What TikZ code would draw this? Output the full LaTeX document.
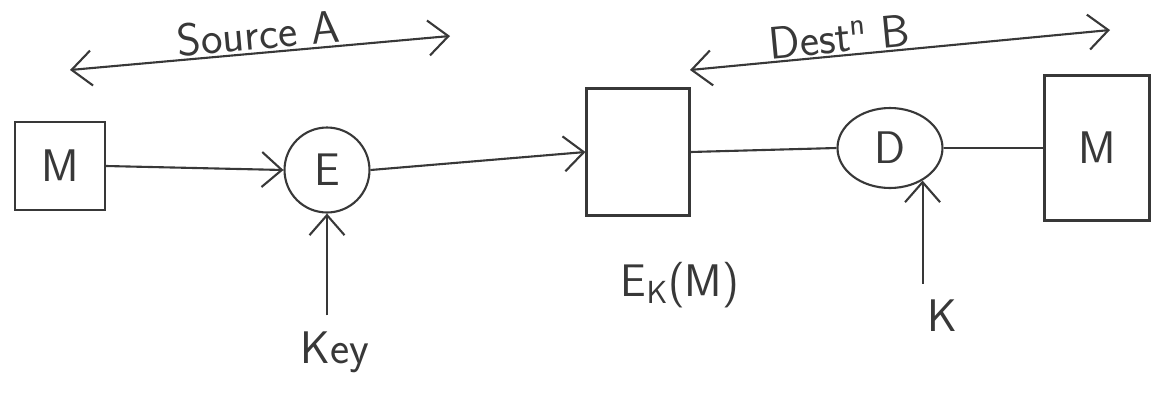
\documentclass[tikz,border=0pt]{standalone}
\usepackage{xcolor}
\usetikzlibrary{arrows.meta,positioning,shapes.geometric}
\definecolor{Pencil}{HTML}{383838}
\newcommand\handfont{\sffamily\fontsize{26}{30}\selectfont}

\begin{document}
\begin{tikzpicture}[x=0.02cm, y=-0.02cm,
  block/.style={draw=Pencil, line width=1.2pt, minimum width=18mm, minimum height=17.6mm,
    font=\handfont, text=Pencil},
  cipher/.style={draw=Pencil, line width=1.2pt, circle, minimum size=17mm,
    font=\handfont, text=Pencil},
  decipher/.style={draw=Pencil, line width=1.2pt, ellipse, minimum width=21mm,
    minimum height=16mm, font=\handfont, text=Pencil},
  flow/.style={-{Straight Barb[length=4mm,width=7mm]}, line width=1.2pt, draw=Pencil},
  span/.style={{Straight Barb[length=4mm,width=7mm]}-{Straight Barb[length=4mm,width=7mm]},
    line width=1.2pt, draw=Pencil},
  plain/.style={line width=1.2pt, draw=Pencil},
  label/.style={font=\handfont, text=Pencil}
]
  \useasboundingbox (0,0) rectangle (1154,403);

  \node[block] (msrc) at (60,166) {M};
  \node[cipher] (enc) at (327,170) {E};
  \node[block, minimum width=20.6mm, minimum height=25.4mm] (ctext) at (638,152) {};
  \node[decipher] (dec) at (890,148) {D};
  \node[block, minimum width=21mm, minimum height=29mm] (mdst) at (1097,148) {M};

  \node[label] (key) at (335,352) {Key};
  \node[label] (ek) at (680,285) {E\textsubscript{K}(M)};
  \node[label] (kd) at (942,316) {K};

  \draw[flow] (msrc.east) -- (enc.west);
  \draw[flow, shorten <=2mm] (key.north -| enc.south) -- (enc.south);
  \draw[flow] (enc.east) -- (ctext.west);
  \draw[plain] (ctext.east) -- (dec.west);
  \draw[plain] (dec.east) -- (mdst.west);
  \draw[flow, shorten <=2mm] (dec.-45 |- kd.north) -- (dec.-45);

  % who sends, who receives
  \coordinate (srcL) at (70,70);
  \coordinate (srcR) at (450,36);
  \coordinate (dstL) at (690,70);
  \coordinate (dstR) at (1110,30);
  \draw[span] (srcL) -- node[label, above, sloped, inner sep=1pt] {Source A} (srcR);
  \draw[span] (dstL) -- node[label, above, sloped, pos=0.36, inner sep=1pt] {Dest\textsuperscript{n} B} (dstR);
\end{tikzpicture}
\end{document}
